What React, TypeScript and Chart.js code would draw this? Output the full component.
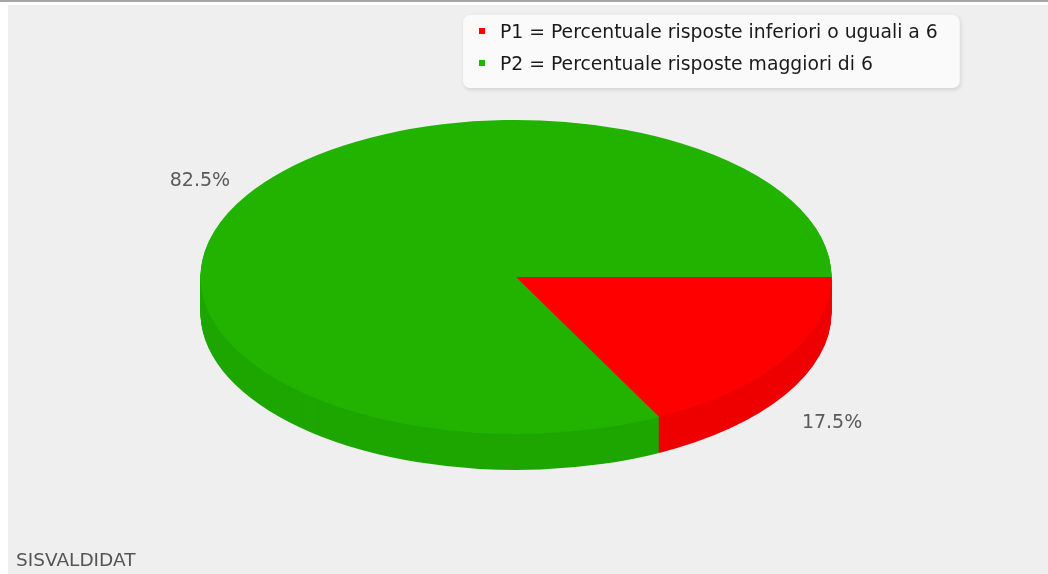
import React, { useEffect, useRef } from 'react';
import { Chart, registerables } from 'chart.js';

Chart.register(...registerables);

// ---- data ----
const categories = [
  'P1 = Percentuale risposte inferiori o uguali a 6',
  'P2 = Percentuale risposte maggiori di 6',
];
const values = [17.5, 82.5];
const topColors = ['#ff0000', '#22b200'];
const sideColors = ['#ef0000', '#1ea600'];
const sourceLabel = 'SISVALDIDAT';

// ---- styles / geometry ----
const W = 1048;
const H = 574;
const RY = 157;
const SX = 315.5 / 157;
const DEPTH = 36;
const FONT = '"DejaVu Sans", "Liberation Sans", sans-serif';

const pie3d = {
  id: 'pie3d',
  beforeDraw(chart: any) {
    const ctx = chart.ctx;
    ctx.save();
    ctx.fillStyle = '#ffffff';
    ctx.fillRect(0, 0, W, H);
    ctx.fillStyle = '#a6a6a6';
    ctx.fillRect(0, 0, W, 2);
    ctx.fillStyle = '#efefef';
    ctx.fillRect(8, 5, W - 8, H - 5);
    ctx.restore();
  },
  beforeDatasetsDraw(chart: any) {
    const ctx = chart.ctx;
    const arcs = chart.getDatasetMeta(0).data;
    const { x, y } = arcs[0];
    ctx.save();
    ctx.translate(x, y);
    ctx.scale(SX, 1);
    ctx.translate(-x, -y);
    for (let d = DEPTH; d >= 1; d--) {
      arcs.forEach((a: any, i: number) => {
        const p = a.getProps(['x', 'y', 'startAngle', 'endAngle', 'outerRadius'], true);
        ctx.beginPath();
        ctx.moveTo(p.x, p.y + d);
        ctx.arc(p.x, p.y + d, p.outerRadius, p.startAngle, p.endAngle);
        ctx.closePath();
        ctx.fillStyle = sideColors[i];
        ctx.fill();
      });
    }
  },
  afterDatasetsDraw(chart: any) {
    chart.ctx.restore();
  },
  afterDraw(chart: any) {
    const ctx = chart.ctx;
    const arcs = chart.getDatasetMeta(0).data;
    const total = values.reduce((s, v) => s + v, 0);
    ctx.save();
    // percentage labels
    ctx.font = `19px ${FONT}`;
    ctx.fillStyle = '#5a5a5a';
    ctx.textAlign = 'center';
    ctx.textBaseline = 'middle';
    arcs.forEach((a: any, i: number) => {
      const p = a.getProps(['x', 'y', 'startAngle', 'endAngle', 'outerRadius'], true);
      const mid = (p.startAngle + p.endAngle) / 2;
      const c = Math.cos(mid);
      const s = Math.sin(mid);
      const rx = p.outerRadius * SX;
      const ry = p.outerRadius;
      const lx = p.x + rx * 1.175 * c;
      const ly = s > 0 ? p.y + ry * 1.34 * s + DEPTH : p.y + ry * 1.17 * s;
      ctx.fillText(((values[i] / total) * 100).toFixed(1) + '%', lx, ly);
    });

    // legend
    ctx.font = `18.8px ${FONT}`;
    const textW = Math.max(...categories.map((t) => ctx.measureText(t).width));
    const bx = 463;
    const by = 15;
    const tx = 500;
    const bw = tx - bx + textW + 22;
    const bh = 73;
    ctx.save();
    ctx.shadowColor = 'rgba(0,0,0,0.12)';
    ctx.shadowBlur = 4;
    ctx.shadowOffsetX = 1;
    ctx.shadowOffsetY = 2;
    ctx.fillStyle = '#fafafa';
    ctx.beginPath();
    ctx.roundRect(bx, by, bw, bh, 7);
    ctx.fill();
    ctx.restore();
    ctx.textAlign = 'left';
    ctx.textBaseline = 'alphabetic';
    categories.forEach((t, i) => {
      const rowY = 37.5 + i * 32;
      ctx.fillStyle = topColors[i];
      ctx.fillRect(479, rowY - 9.5, 6, 6);
      ctx.fillStyle = '#1a1a1a';
      ctx.fillText(t, tx, rowY);
    });

    // source
    ctx.font = `18.5px ${FONT}`;
    ctx.fillStyle = '#555555';
    ctx.fillText(sourceLabel, 16, 566);
    ctx.restore();
  },
};

export default function App() {
  const ref = useRef<HTMLCanvasElement>(null);
  useEffect(() => {
    if (!ref.current) return;
    const chart = new Chart(ref.current, {
      type: 'pie',
      data: {
        labels: categories,
        datasets: [
          {
            data: values,
            backgroundColor: topColors,
            borderWidth: 0,
            hoverOffset: 0,
            radius: RY,
          } as any,
        ],
      },
      options: {
        responsive: false,
        animation: false,
        events: [],
        rotation: 90,
        layout: { padding: { left: 300, right: 316, top: 100, bottom: 120 } },
        plugins: { legend: { display: false }, tooltip: { enabled: false } },
      },
      plugins: [pie3d],
    });
    return () => chart.destroy();
  }, []);
  return (
    <canvas
      ref={ref}
      width={W}
      height={H}
      style={{ position: 'absolute', left: 0, top: 0, width: W, height: H }}
    />
  );
}
